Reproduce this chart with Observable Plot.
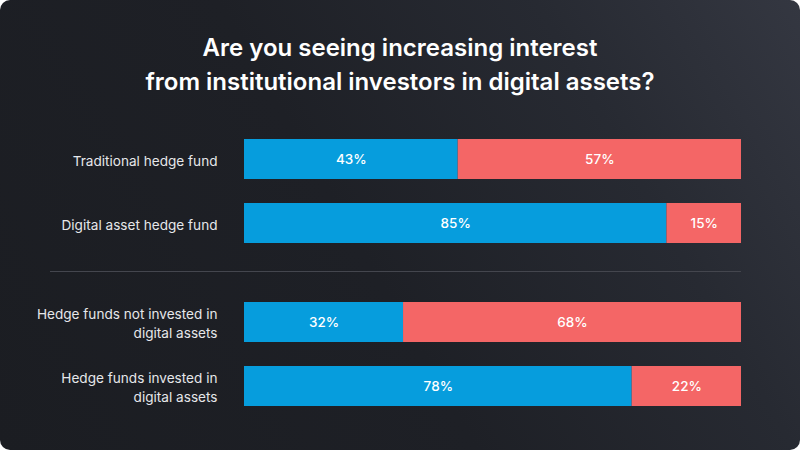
<!DOCTYPE html>
<html>
<head>
<meta charset="utf-8">
<script src="https://cdn.jsdelivr.net/npm/d3@7"></script>
<script src="https://cdn.jsdelivr.net/npm/@observablehq/plot@0.6"></script>
<style>
  html, body { margin: 0; padding: 0; background: #ffffff; }
  #card {
    position: relative; width: 800px; height: 450px; overflow: hidden;
    border-radius: 10px;
    background: linear-gradient(60deg, #1b1d22 0%, #1e2026 45%, #272a32 75%, #343741 100%);
    font-family: Inter, "Noto Sans", sans-serif;
  }
  #title {
    position: absolute; left: 0; top: 31px; width: 800px; text-align: center;
    color: #ffffff; font-size: 24px; font-weight: 600; line-height: 34px;
  }
  #sep {
    position: absolute; left: 50px; top: 271px; width: 691px; height: 1px; background: #44464e;
  }
  #chart { position: absolute; left: 0; top: 0; }
</style>
</head>
<body>
<div id="card">
  <div id="title">Are you seeing increasing interest<br>from institutional investors in digital assets?</div>
  <div id="sep"></div>
  <div id="chart"></div>
</div>
<script>
const categories = [
  "Traditional hedge fund",
  "Digital asset hedge fund",
  "Hedge funds not invested in\ndigital assets",
  "Hedge funds invested in\ndigital assets"
];
const groups = ["Fund type", "Fund type", "Investment status", "Investment status"];
const answers = ["Yes", "No"];
const yesValues = [43, 85, 32, 78];
const noValues = [57, 15, 68, 22];
const colors = ["#069ddd", "#f46666"];

const slotOf = categories.map((c, i) => groups.slice(0, i).filter(g => g === groups[i]).length);
const rows = categories.map((c, i) => ({label: c, group: groups[i], slot: slotOf[i]}));
const long = [];
categories.forEach((c, i) => {
  long.push({label: c, group: groups[i], slot: slotOf[i], answer: answers[0], value: yesValues[i]});
  long.push({label: c, group: groups[i], slot: slotOf[i], answer: answers[1], value: noValues[i]});
});

const chart = Plot.plot({
  width: 800,
  height: 450,
  marginTop: 127,
  marginBottom: 32,
  marginLeft: 244,
  marginRight: 59,
  style: {background: "transparent", fontFamily: "Inter, 'Noto Sans', sans-serif"},
  x: {domain: [0, 100], axis: null},
  y: {domain: [0, 1], type: "band", paddingInner: 0.375, paddingOuter: 0.1875, axis: null},
  fy: {domain: [...new Set(groups)], paddingInner: 35 / 163, paddingOuter: 0, axis: null},
  color: {domain: answers, range: colors},
  marks: [
    Plot.barX(long, Plot.stackX({x: "value", y: "slot", fy: "group", fill: "answer", order: answers})),
    Plot.text(long, Plot.stackX({
      x: "value", y: "slot", fy: "group", z: "answer", order: answers,
      text: d => d.value + "%", fill: "#ffffff", fontSize: 13.5, fontWeight: 500
    })),
    Plot.text(rows, {
      y: "slot", fy: "group", frameAnchor: "left", text: "label",
      textAnchor: "end", dx: -27, fill: "#e6e7ea", fontSize: 13.6, lineHeight: 1.4
    })
  ]
});
document.getElementById("chart").appendChild(chart);
</script>
</body>
</html>
